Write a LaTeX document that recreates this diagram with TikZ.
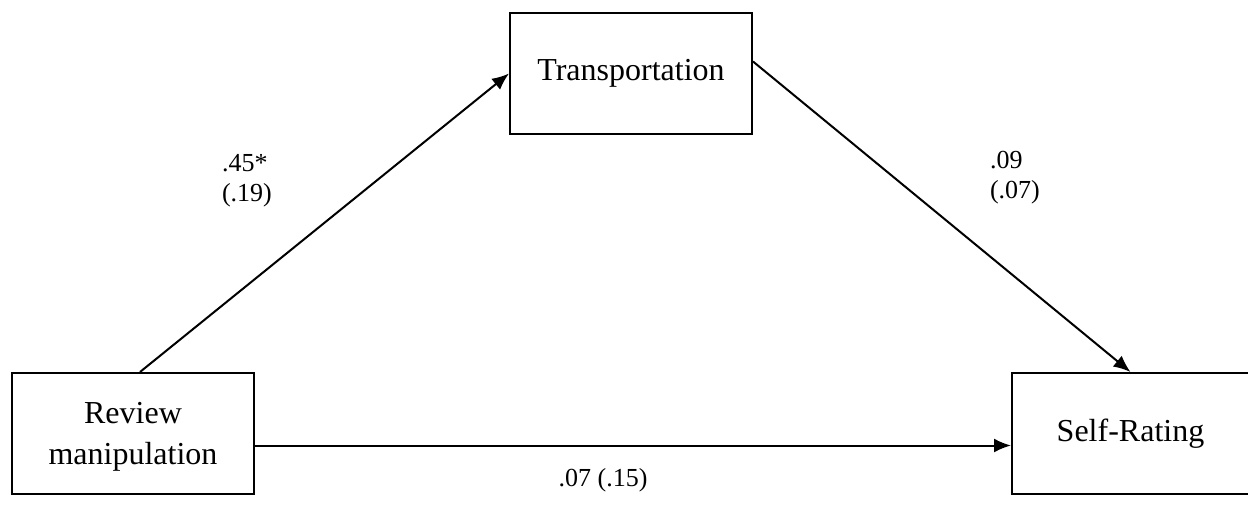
\documentclass[tikz,border=0pt]{standalone}
\usepackage{fontspec}
\setmainfont{Liberation Serif}
\usetikzlibrary{arrows.meta}

\begin{document}
\begin{tikzpicture}[
    x=0.5pt, y=-0.5pt,
    var/.style={draw, line width=1pt, minimum width=121pt, minimum height=60.5pt, align=center, font=\fontsize{16}{20.5}\selectfont},
    coef/.style={align=left, inner sep=0pt, font=\fontsize{13}{15}\selectfont},
    >={Latex[length=8.5pt,width=7pt]},
    line width=1pt
]
\useasboundingbox (0,0) rectangle (1248,508);

\node (review)    [var, text depth=0pt] at (133,433.5) {Review\\manipulation};
\node (transport) [var] at (631,73.5) {Transportation};
\node (selfrate)  [var, minimum width=118.5pt] at (1130.5,433.5) {Self-Rating};

\node (a) [coef, anchor=west] at (221,181) {.45*\\(.19)};
\node (b) [coef, anchor=west] at (989,178) {.09\\(.07)};
\node (c) [coef] at (603,480) {.07 (.15)};

\draw[->] ([xshift=3.5pt]review.north) -- (transport.west);
\draw[->] ([yshift=6pt]transport.east) -- (selfrate.north);
\draw[->] ([yshift=-6pt]review.east) -- ([yshift=-6pt]selfrate.west);

\end{tikzpicture}
\end{document}
